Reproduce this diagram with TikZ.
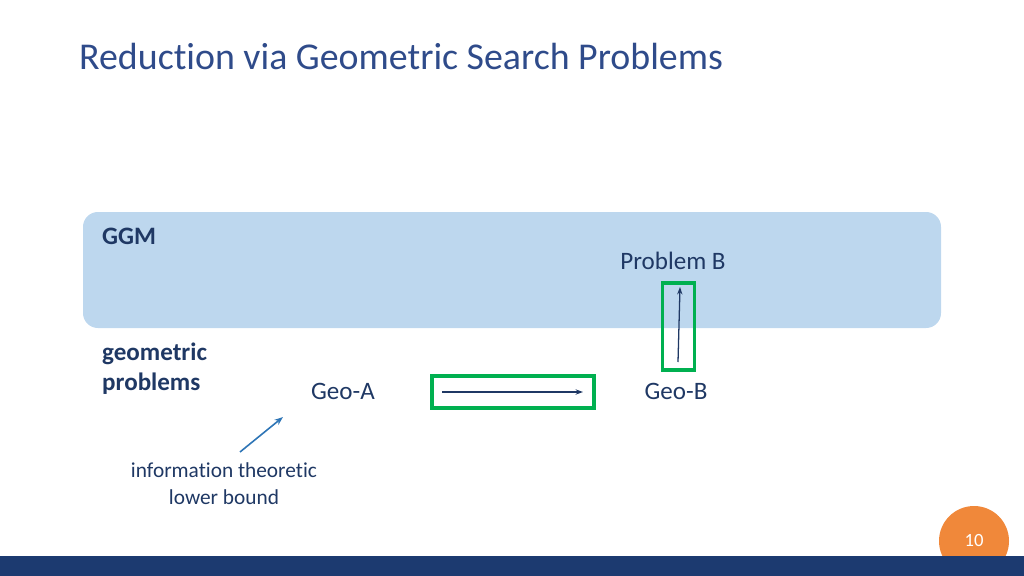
\documentclass[tikz,border=0pt]{standalone}
\usepackage{fontspec}
\setmainfont{Carlito}[Ligatures=NoCommon]
\usetikzlibrary{arrows.meta}
\definecolor{navy}{HTML}{1F3864}
\definecolor{ttl}{HTML}{2F4B8A}
\definecolor{lb}{HTML}{BDD7EE}
\definecolor{grn}{HTML}{00B050}
\definecolor{mb}{HTML}{2E75B6}
\definecolor{org}{HTML}{F0883A}
\definecolor{bar}{HTML}{1C3A70}
\begin{document}
\begin{tikzpicture}[x=0.9375pt,y=-0.9375pt,
  lbl/.style={text=navy,font=\fontsize{23.5}{28}\selectfont,inner sep=0},
  gbox/.style={draw=grn,line width=3.5pt},
  arr/.style={draw=navy,line width=1.2pt,-{Stealth[length=7pt,width=5pt]}}]
\useasboundingbox (0,0) rectangle (1024,576);
\node[anchor=base west,text=ttl,font=\fontsize{35.5}{42}\selectfont,inner sep=0] (title) at (79,70) {Reduction via Geometric Search Problems};
\fill[lb,rounded corners=14pt] (83,212) rectangle (941,328);
\node[lbl,anchor=base west,font=\bfseries\fontsize{23.5}{28}\selectfont] (ggm) at (102,244) {GGM};
\node[lbl,anchor=base] (pb) at (673,269) {Problem B};
\node[gbox,minimum width=30pt,minimum height=82pt,inner sep=0] (g1) at (678.5,326.5) {};
\coordinate (b1) at (678,362); \coordinate (b2) at (680,287);
\draw[arr] (b1) -- (b2);
\node[lbl,anchor=base west,align=left,font=\bfseries\fontsize{23.5}{28}\selectfont] (geo) at (102,390) {geometric\\problems};
\node[lbl,anchor=base] (ga) at (343,399) {Geo-A};
\node[lbl,anchor=base] (gb) at (676,399) {Geo-B};
\node[gbox,minimum width=152pt,minimum height=30pt,inner sep=0] (g2) at (513,392) {};
\coordinate (a1) at (442,392); \coordinate (a2) at (583,392);
\draw[arr] (a1) -- (a2);
\coordinate (c1) at (240,452); \coordinate (c2) at (283,417);
\draw[draw=mb,line width=1.5pt,-{Stealth[length=8pt,width=6pt]}] (c1) -- (c2);
\node[lbl,align=center,anchor=base,font=\fontsize{20}{25}\selectfont] (itl) at (224,504) {information theoretic\\lower bound};
\fill[org] (974,541) circle (35);
\fill[bar] (0,556) rectangle (1024,576);
\node[text=white,font=\fontsize{17.5}{19}\selectfont,inner sep=0] (pg) at (974,541) {10};
\end{tikzpicture}
\end{document}
